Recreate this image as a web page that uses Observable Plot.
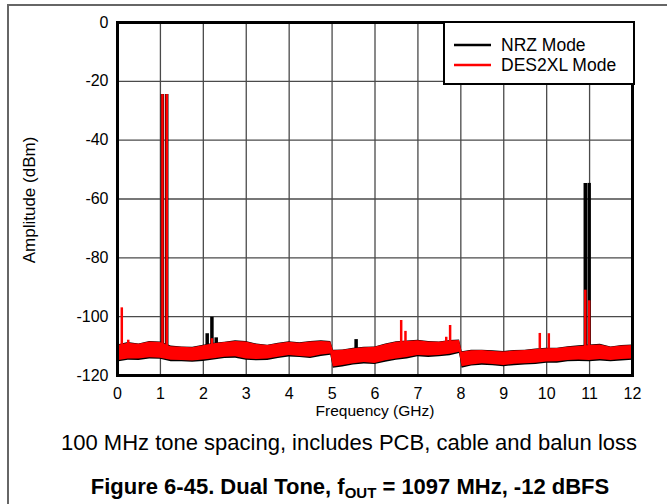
<!DOCTYPE html>
<html>
<head>
<meta charset="utf-8">
<script src="https://cdn.jsdelivr.net/npm/d3@7"></script>
<script src="https://cdn.jsdelivr.net/npm/@observablehq/plot@0.6"></script>
<style>
  html, body { margin: 0; padding: 0; background: #fff; }
  #wrap { position: relative; width: 667px; height: 504px; overflow: hidden; font-family: "Liberation Sans", Arial, sans-serif; color: #000; }
  #wrap > svg { position: absolute; left: 0; top: 0; }
  .abs { position: absolute; white-space: nowrap; }
</style>
</head>
<body>
<div id="wrap"></div>
<script>
// ---- data ----
const freq = [0,0.25,0.5,0.75,1,1.25,1.5,1.75,2,2.25,2.5,2.75,3,3.25,3.5,3.75,4,4.25,4.5,4.75,4.97,5.03,5.25,5.5,5.75,6,6.25,6.5,6.75,7,7.25,7.5,7.75,7.97,8.03,8.25,8.5,8.75,9,9.25,9.5,9.75,10,10.25,10.5,10.75,11,11.25,11.5,11.75,12];
const desTop = [-109.8,-109.0,-109.4,-108.6,-108.8,-110.2,-110.4,-110.6,-109.9,-109.2,-108.8,-108.4,-108.6,-109.5,-109.8,-109.2,-108.7,-109.0,-108.6,-108.4,-108.6,-111.6,-111.4,-110.9,-110.6,-110.4,-109.5,-108.7,-108.4,-108.2,-108.6,-108.7,-108.3,-108.1,-112.1,-111.6,-111.5,-111.8,-112.0,-111.7,-111.5,-111.2,-110.9,-110.8,-110.4,-110.1,-109.8,-109.6,-110.4,-110.0,-109.8];
const desBot = [-115.0,-114.4,-114.4,-114.0,-114.1,-114.8,-114.9,-115.1,-114.7,-114.3,-113.8,-113.6,-114.4,-114.6,-114.4,-113.8,-113.2,-113.5,-113.8,-113.0,-112.7,-117.1,-116.6,-116.0,-115.6,-115.9,-115.0,-114.4,-113.9,-113.2,-113.4,-113.2,-112.8,-112.1,-117.0,-116.4,-116.0,-116.3,-116.6,-116.2,-116.0,-115.8,-115.4,-115.3,-114.9,-114.7,-114.9,-114.6,-114.9,-114.6,-114.4];
const nrzTop = [-109.6,-108.8,-109.3,-108.4,-108.6,-110.0,-110.3,-110.4,-109.7,-109.0,-108.7,-108.2,-108.4,-109.3,-109.7,-109.0,-108.5,-108.9,-108.4,-108.2,-108.4,-111.4,-111.3,-110.7,-110.4,-110.3,-109.3,-108.5,-108.3,-108.0,-108.4,-108.6,-108.1,-107.9,-111.9,-111.4,-111.4,-111.6,-111.8,-111.5,-111.4,-111.0,-110.7,-110.7,-110.2,-109.9,-109.6,-109.4,-110.3,-109.8,-109.6];
const nrzBot = [-115.4,-114.8,-114.9,-114.4,-114.5,-115.3,-115.3,-115.5,-115.2,-114.7,-114.2,-114.1,-114.8,-115.0,-114.9,-114.2,-113.7,-113.9,-114.2,-113.5,-113.1,-117.5,-117.1,-116.4,-116.1,-116.3,-115.5,-114.8,-114.4,-113.6,-113.9,-113.6,-113.3,-112.5,-117.5,-116.8,-116.5,-116.7,-117.0,-116.7,-116.4,-116.3,-115.8,-115.8,-115.3,-115.2,-115.3,-115.1,-115.3,-115.1,-114.8];

const nrzSpurFreq  = [1.047, 1.147, 2.09, 2.2, 2.3, 5.56, 10.9, 10.99];
const nrzSpurLevel = [-24.5, -24.5, -105.8, -100.2, -107.2, -107.8, -54.7, -54.7];
const desSpurFreq  = [0.1, 0.25, 1.047, 1.147, 2.2, 6.61, 6.71, 7.66, 7.75, 9.84, 10.05, 10.9, 10.99];
const desSpurLevel = [-97, -108, -24.5, -24.5, -107.5, -101.3, -105, -107, -103, -105.7, -105.8, -91, -94.6];

const xTicks = [0,1,2,3,4,5,6,7,8,9,10,11,12];
const yTicks = [0,-20,-40,-60,-80,-100,-120];
const seriesNames = ["NRZ Mode", "DES2XL Mode"];
const seriesColors = ["#000000", "#ff0000"];

// ---- tables ----
const noise = freq.map((f, i) => ({f, desTop: desTop[i], desBot: desBot[i], nrzTop: nrzTop[i], nrzBot: nrzBot[i]}));
const nrzSpurs = nrzSpurFreq.map((f, i) => ({f, v: nrzSpurLevel[i]}));
const desSpurs = desSpurFreq.map((f, i) => ({f, v: desSpurLevel[i]}));

const chart = Plot.plot({
  width: 667,
  height: 425,
  marginLeft: 117,
  marginRight: 35,
  marginTop: 22,
  marginBottom: 50,
  style: {fontFamily: "'Liberation Sans', Arial, sans-serif", fontSize: "16px", background: "transparent", color: "#000"},
  x: {domain: [0, 12], label: null},
  y: {domain: [-120, 0], label: null},
  marks: [
    Plot.ruleX(xTicks, {stroke: "#4a4a4a", strokeWidth: 1.3}),
    Plot.ruleY(yTicks, {stroke: "#4a4a4a", strokeWidth: 1.3}),
    Plot.areaY(noise, {x: "f", y1: "nrzBot", y2: "nrzTop", fill: seriesColors[0]}),
    Plot.ruleX(nrzSpurs, {x: "f", y1: -111, y2: "v", stroke: seriesColors[0], strokeWidth: 3.5}),
    Plot.areaY(noise, {x: "f", y1: "desBot", y2: "desTop", fill: seriesColors[1]}),
    Plot.ruleX(desSpurs, {x: "f", y1: -111, y2: "v", stroke: seriesColors[1], strokeWidth: 2.5}),
    Plot.frame({stroke: "#000", strokeWidth: 3}),
    Plot.axisX(xTicks, {tickSize: 0, tickPadding: 12, fontSize: 16, label: null, tickFormat: d => String(d)}),
    Plot.axisY(yTicks, {tickSize: 0, tickPadding: 9, fontSize: 16, label: null, tickFormat: d => String(d)})
  ]
});

const wrap = document.getElementById("wrap");
wrap.appendChild(chart);

// outer figure border lines (top and left)
const topLine = document.createElement("div");
topLine.className = "abs";
Object.assign(topLine.style, {left: "7px", top: "4px", width: "660px", height: "2px", background: "#666"});
wrap.appendChild(topLine);
const leftLine = document.createElement("div");
leftLine.className = "abs";
Object.assign(leftLine.style, {left: "7px", top: "4px", width: "2px", height: "500px", background: "#666"});
wrap.appendChild(leftLine);

// axis titles
const yTitle = document.createElement("div");
yTitle.className = "abs";
yTitle.textContent = "Amplitude (dBm)";
Object.assign(yTitle.style, {left: "30px", top: "200px", fontSize: "17px", transform: "translate(-50%, -50%) rotate(-90deg)"});
wrap.appendChild(yTitle);

const xTitle = document.createElement("div");
xTitle.className = "abs";
xTitle.textContent = "Frequency (GHz)";
Object.assign(xTitle.style, {left: "375px", top: "411px", fontSize: "15.5px", transform: "translate(-50%, -50%)"});
wrap.appendChild(xTitle);

// caption and figure title
const cap = document.createElement("div");
cap.className = "abs";
cap.textContent = "100 MHz tone spacing, includes PCB, cable and balun loss";
Object.assign(cap.style, {left: "349px", top: "443px", fontSize: "22px", transform: "translate(-50%, -50%)"});
wrap.appendChild(cap);

const title = document.createElement("div");
title.className = "abs";
title.innerHTML = "Figure 6-45. Dual Tone, f<sub style=\"font-size:15px;vertical-align:-4px\">OUT</sub> = 1097 MHz, -12 dBFS";
Object.assign(title.style, {left: "350px", top: "487px", fontSize: "22px", fontWeight: "bold", transform: "translate(-50%, -50%)"});
wrap.appendChild(title);

// legend
const leg = document.createElement("div");
leg.className = "abs";
Object.assign(leg.style, {left: "443px", top: "21px", width: "188px", height: "60px", border: "2px solid #000", background: "#fff"});
seriesNames.forEach((name, i) => {
  const row = document.createElement("div");
  row.className = "abs";
  Object.assign(row.style, {left: "9px", top: (12 + i * 19.5) + "px", height: "20px", display: "flex", alignItems: "center"});
  const sw = document.createElementNS("http://www.w3.org/2000/svg", "svg");
  sw.setAttribute("width", "37"); sw.setAttribute("height", "20");
  const ln = document.createElementNS("http://www.w3.org/2000/svg", "line");
  ln.setAttribute("x1", "0"); ln.setAttribute("x2", "37"); ln.setAttribute("y1", "10"); ln.setAttribute("y2", "10");
  ln.setAttribute("stroke", seriesColors[i]); ln.setAttribute("stroke-width", "2.5");
  sw.appendChild(ln);
  row.appendChild(sw);
  const t = document.createElement("span");
  t.textContent = name;
  Object.assign(t.style, {marginLeft: "10px", fontSize: "17.5px", lineHeight: "20px"});
  row.appendChild(t);
  leg.appendChild(row);
});
wrap.appendChild(leg);
</script>
</body>
</html>
